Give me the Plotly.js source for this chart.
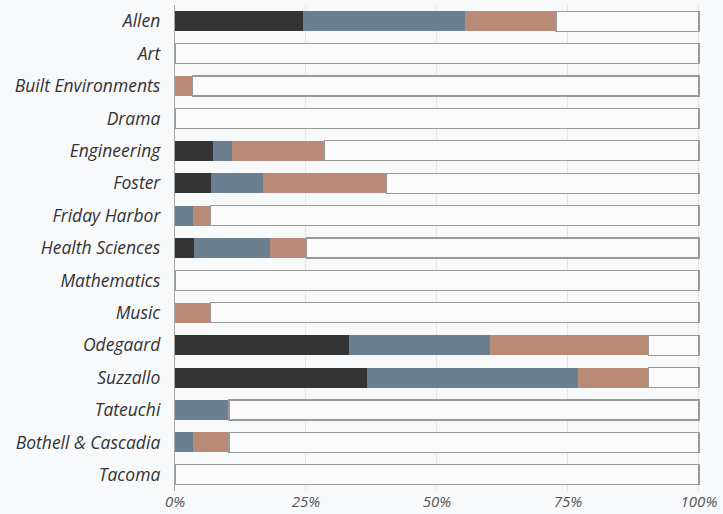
<!DOCTYPE html>
<html>
<head>
<meta charset="utf-8">
<script src="https://cdn.plot.ly/plotly-3.0.1.min.js"></script>
<style>
html,body{margin:0;padding:0;background:#f8f9fb;}
#chart{width:723px;height:514px;}
</style>
</head>
<body>
<div id="chart"></div>
<script>
var categories = ["Allen","Art","Built Environments","Drama","Engineering","Foster","Friday Harbor","Health Sciences","Mathematics","Music","Odegaard","Suzzallo","Tateuchi","Bothell & Cascadia","Tacoma"];
var seriesDark   = [24.4, 0, 0,   0, 7.2, 6.8, 0,   3.6, 0, 0,   33.3, 36.7, 0,    0,   0];
var seriesSlate  = [30.9, 0, 0,   0, 3.7, 9.9, 3.5, 14.5, 0, 0,  26.9, 40.3, 10.3, 3.5, 0];
var seriesSalmon = [17.4, 0, 3.4, 0, 17.7, 23.6, 3.3, 7.0, 0, 6.8, 30.2, 13.4, 0,  6.8, 0];
var tickVals = [0, 25, 50, 75, 100];
var tickText = ["0%", "25%", "50%", "75%", "100%"];

var remainder = categories.map(function(c, i){
  return 100 - seriesDark[i] - seriesSlate[i] - seriesSalmon[i];
});

function seg(vals, color, lineColor, lineWidth){
  return {
    type: 'bar', orientation: 'h', y: categories, x: vals,
    marker: {color: color, line: {color: lineColor, width: lineWidth}},
    hoverinfo: 'skip', showlegend: false
  };
}

var data = [
  seg(seriesDark, '#333333', '#333333', 0),
  seg(seriesSlate, '#6c7f90', '#6c7f90', 0),
  seg(seriesSalmon, '#b98a76', '#b98a76', 0),
  seg(remainder, '#fbfbfc', '#9a9a9a', 1.2)
];

var layout = {
  width: 723, height: 514,
  paper_bgcolor: '#f8f9fb', plot_bgcolor: '#f8f9fb',
  barmode: 'stack', bargap: 0.38,
  margin: {l: 175, r: 23, t: 5, b: 23, pad: 0},
  font: {family: '"Open Sans", sans-serif', color: '#444'},
  xaxis: {
    range: [0, 100.2], tickvals: tickVals, ticktext: tickText,
    showgrid: true, gridcolor: '#e3e5e8', gridwidth: 1,
    zeroline: false, showline: false, ticks: '',
    ticklabelstandoff: 0,
    tickfont: {family: '"Open Sans", sans-serif', size: 15, color: '#555', style: 'italic'},
    fixedrange: true
  },
  yaxis: {
    autorange: 'reversed', type: 'category',
    showgrid: false, zeroline: false,
    showline: true, linecolor: '#a8a8a8', linewidth: 1.2,
    ticks: '', ticklen: 0, ticklabelstandoff: 10,
    tickfont: {family: '"Open Sans", sans-serif', size: 17.5, color: '#333', style: 'italic'},
    fixedrange: true
  }
};

Plotly.newPlot('chart', data, layout, {displayModeBar: false, staticPlot: true});
</script>
</body>
</html>
